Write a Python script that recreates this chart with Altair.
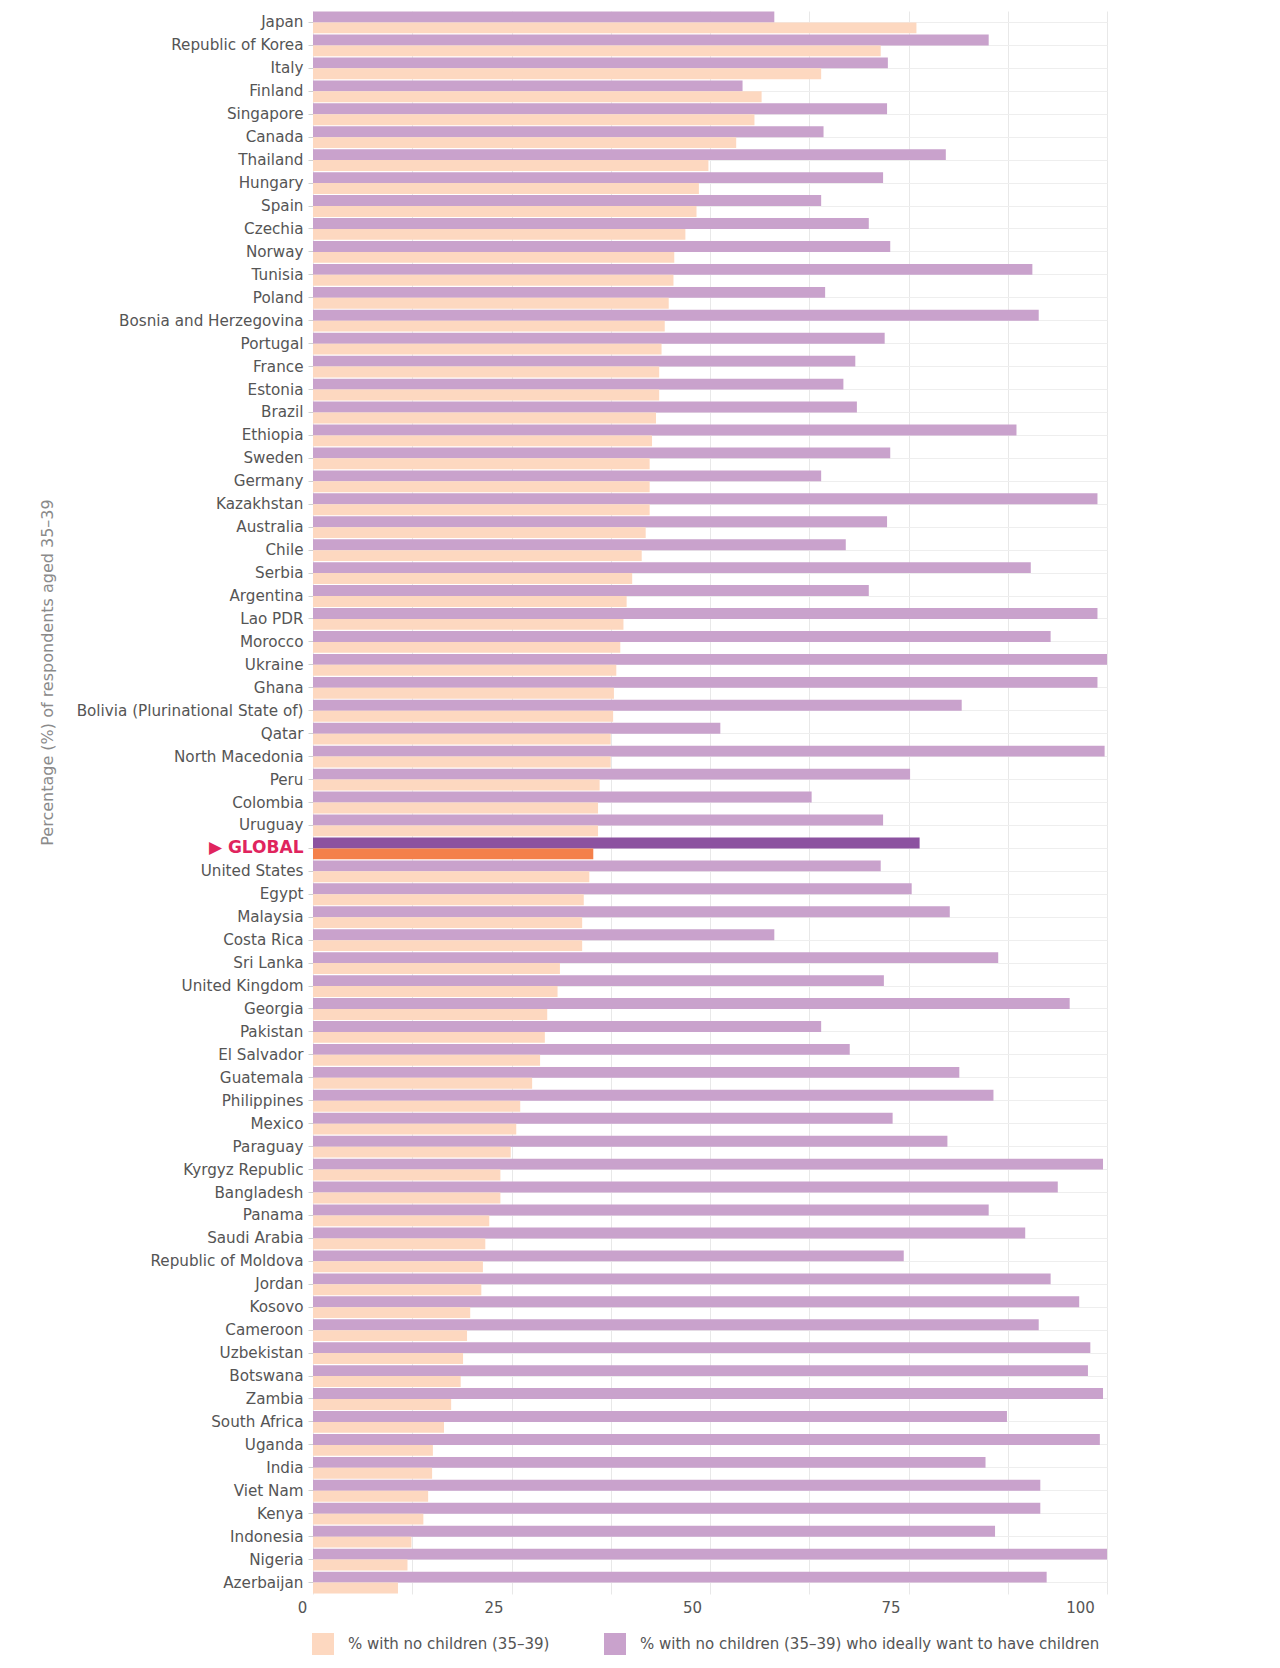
import altair as alt
import pandas as pd

countries = [
    "Japan", "Republic of Korea", "Italy", "Finland", "Singapore", "Canada", "Thailand",
    "Hungary", "Spain", "Czechia", "Norway", "Tunisia", "Poland", "Bosnia and Herzegovina",
    "Portugal", "France", "Estonia", "Brazil", "Ethiopia", "Sweden", "Germany", "Kazakhstan",
    "Australia", "Chile", "Serbia", "Argentina", "Lao PDR", "Morocco", "Ukraine", "Ghana",
    "Bolivia (Plurinational State of)", "Qatar", "North Macedonia", "Peru", "Colombia",
    "Uruguay", "GLOBAL", "United States", "Egypt", "Malaysia", "Costa Rica", "Sri Lanka",
    "United Kingdom", "Georgia", "Pakistan", "El Salvador", "Guatemala", "Philippines",
    "Mexico", "Paraguay", "Kyrgyz Republic", "Bangladesh", "Panama", "Saudi Arabia",
    "Republic of Moldova", "Jordan", "Kosovo", "Cameroon", "Uzbekistan", "Botswana",
    "Zambia", "South Africa", "Uganda", "India", "Viet Nam", "Kenya", "Indonesia",
    "Nigeria", "Azerbaijan",
]

no_children = [
    76.0, 71.5, 64.0, 56.5, 55.6, 53.3, 49.8, 48.6, 48.3, 46.9, 45.5, 45.4, 44.8, 44.3,
    43.9, 43.6, 43.6, 43.2, 42.7, 42.4, 42.4, 42.4, 41.9, 41.4, 40.2, 39.5, 39.1, 38.7,
    38.2, 37.9, 37.8, 37.5, 37.5, 36.1, 35.9, 35.9, 35.3, 34.8, 34.1, 33.9, 33.9, 31.1,
    30.8, 29.5, 29.2, 28.6, 27.6, 26.1, 25.6, 24.9, 23.6, 23.6, 22.2, 21.7, 21.4, 21.2,
    19.8, 19.4, 18.9, 18.6, 17.4, 16.5, 15.1, 15.0, 14.5, 13.9, 12.4, 11.9, 10.7,
]

want_children = [
    58.1, 85.1, 72.4, 54.1, 72.3, 64.3, 79.7, 71.8, 64.0, 70.0, 72.7, 90.6, 64.5, 91.4,
    72.0, 68.3, 66.8, 68.5, 88.6, 72.7, 64.0, 98.8, 72.3, 67.1, 90.4, 70.0, 98.8, 92.9,
    100.0, 98.8, 81.7, 51.3, 99.7, 75.2, 62.8, 71.8, 76.4, 71.5, 75.4, 80.2, 58.1, 86.3,
    71.9, 95.3, 64.0, 67.6, 81.4, 85.7, 73.0, 79.9, 99.5, 93.8, 85.1, 89.7, 74.4, 92.9,
    96.5, 91.4, 97.9, 97.6, 99.5, 87.4, 99.1, 84.7, 91.6, 91.6, 85.9, 100.0, 92.4,
]

S_NO = "% with no children (35\u201339)"
S_WANT = "% with no children (35\u201339) who ideally want to have children"

colors_domain = [S_NO, S_WANT, S_NO + " global", S_WANT + " global"]
colors_range = ["#FDD8C0", "#C9A2CC", "#F4804A", "#8C52A0"]

rows = []
for c, n, w in zip(countries, no_children, want_children):
    g = " global" if c == "GLOBAL" else ""
    rows.append({"country": c, "series": S_WANT, "key": S_WANT + g, "value": w})
    rows.append({"country": c, "series": S_NO, "key": S_NO + g, "value": n})
df = pd.DataFrame(rows)

FONT = "DejaVu Sans"

x_vals = [0, 12.5, 25, 37.5, 50, 62.5, 75, 87.5, 100]

chart = (
    alt.Chart(df)
    .mark_bar()
    .encode(
        x=alt.X(
            "value:Q",
            scale=alt.Scale(domain=[0, 100], nice=False),
            axis=alt.Axis(
                title=None,
                values=x_vals,
                labelExpr="datum.value % 25 === 0 ? datum.label : ''",
                grid=True,
                gridColor="#e8e8e8",
                ticks=False,
                domain=False,
                labelFlush=False,
                labelOffset={
                    "condition": [
                        {"test": "datum.value === 0", "value": -11},
                        {"test": "datum.value === 100", "value": -27},
                    ],
                    "value": -18,
                },
                labelPadding=6,
                labelFontSize=15,
                labelColor="#555555",
                labelFont=FONT,
            ),
        ),
        y=alt.Y(
            "country:N",
            sort=countries,
            scale=alt.Scale(paddingInner=0.05, paddingOuter=0.025),
            axis=alt.Axis(
                title="Percentage (%) of respondents aged 35\u201339",
                titleFont=FONT,
                titleFontSize=16,
                titleFontWeight="normal",
                titleColor="#8a8a8a",
                titleAngle=270,
                titleAlign="center",
                titleBaseline="middle",
                titleX=-266,
                titleY=661,
                labelExpr="datum.value == 'GLOBAL' ? '\u25B6 GLOBAL' : datum.value",
                labelFont=FONT,
                labelFontSize={"condition": {"test": "datum.value === 'GLOBAL'", "value": 17}, "value": 15.2},
                labelFontWeight={"condition": {"test": "datum.value === 'GLOBAL'", "value": "bold"}, "value": "normal"},
                labelColor={"condition": {"test": "datum.value === 'GLOBAL'", "value": "#E0245E"}, "value": "#555555"},
                labelLimit=320,
                labelPadding=5,
                ticks=True,
                tickSize=5,
                tickColor="#d0d0d0",
                domain=False,
                grid=True,
                gridColor="#eeeeee",
            ),
        ),
        yOffset=alt.YOffset(
            "series:N",
            scale=alt.Scale(domain=[S_WANT, S_NO], paddingInner=0, paddingOuter=0),
        ),
        color=alt.Color(
            "key:N",
            scale=alt.Scale(domain=colors_domain, range=colors_range),
            legend=alt.Legend(
                values=[S_NO, S_WANT],
                title=None,
                orient="none",
                direction="horizontal",
                legendX=-1,
                legendY=1622,
                symbolType="square",
                symbolSize=484,
                symbolStrokeWidth=0,
                labelFont=FONT,
                labelFontSize=15,
                labelColor="#555555",
                labelOffset=14,
                columnPadding=54,
                padding=0,
                labelLimit=600,
            ),
        ),
    )
    .properties(
        width=794,
        height=1583,
        autosize=alt.AutoSizeParams(type="none"),
        padding={"left": 305, "top": 3, "right": 20, "bottom": 66},
        background="white",
    )
    .configure_view(stroke=None)
)

chart.save("out.html", embed_options={"renderer": "svg", "actions": False})
